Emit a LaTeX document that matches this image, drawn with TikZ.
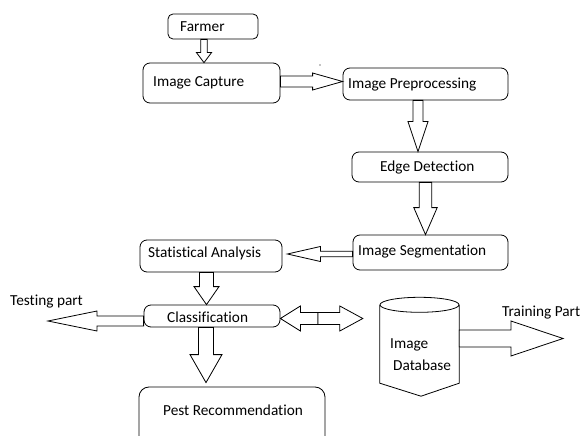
\documentclass[tikz,border=0pt]{standalone}
\usepackage{fontspec}
\setmainfont{Carlito}[Ligatures=NoCommon]
\usetikzlibrary{calc}

% Hollow block arrow from #1 (tail) to #2 (tip):
% #3 half shaft width, #4 half head width, #5 head length
\newcommand\blockarrow[5]{%
  \coordinate (ba-base) at ($(#2)!#5!(#1)$);
  \draw[blk] ($(#1)!#3!90:(#2)$) -- ($(ba-base)!#3!90:(#2)$)
    -- ($(ba-base)!#4!90:(#2)$) -- (#2) -- ($(ba-base)!#4!-90:(#2)$)
    -- ($(ba-base)!#3!-90:(#2)$) -- ($(#1)!#3!-90:(#2)$) -- cycle;}

\begin{document}
\begin{tikzpicture}[x=1pt, y=-1pt,
  box/.style={draw, line width=0.8pt, rounded corners=7pt, inner sep=0pt},
  lbl/.style={inner sep=0pt, anchor=west, font=\fontsize{15.3}{18}\selectfont},
  blk/.style={draw, fill=white, line width=0.8pt, line join=miter}]
\useasboundingbox (0,0) rectangle (582,436);
\clip (0,0) rectangle (582,436);

% process boxes
\node[box, minimum width=90pt, minimum height=25pt, rounded corners=5pt] (farmer) at (213,26.5) {};
\node[box, minimum width=137pt, minimum height=40pt] (capture) at (211.5,83) {};
\node[box, minimum width=165pt, minimum height=32pt] (prep) at (425.5,84) {};
\node[box, minimum width=156pt, minimum height=30pt] (edge) at (430,167) {};
\node[box, minimum width=155pt, minimum height=35pt] (seg) at (430.5,252.5) {};
\node[box, minimum width=142pt, minimum height=32pt] (stat) at (211,256) {};
\node[box, minimum width=136pt, minimum height=22pt] (class) at (212,316) {};
\node[box, minimum width=186pt, minimum height=80pt, rounded corners=10pt] (pest) at (232,427) {};

% box texts
\node[lbl] (t-farmer) at (180,27) {Farmer};
\node[lbl] (t-capture) at (153,83) {Image Capture};
\node[lbl] (t-prep) at (348,85) {Image Preprocessing};
\node[lbl] (t-edge) at (380,168) {Edge Detection};
\node[lbl] (t-seg) at (358,252) {Image Segmentation};
\node[lbl] (t-stat) at (148,253) {Statistical Analysis};
\node[lbl] (t-class) at (167,317) {Classification};
\node[lbl] (t-pest) at (163,410) {Pest Recommendation};
\node[lbl] (t-test) at (10,302) {Testing part};
\node[lbl] (t-train) at (502,313) {Training Part};

% image database cylinder
\node[minimum width=79pt, minimum height=78pt, inner sep=0pt] (db) at (419.5,344) {};
\coordinate (db-bottom) at ($(db.south)+(1.5,13)$);
\draw[line width=0.8pt] (db.north west) -- (db.south west) -- (db-bottom)
  -- (db.south east) -- (db.north east);
\draw[line width=0.8pt] (db.north) ellipse [x radius=39.5, y radius=7.5];
\node[lbl] (t-img) at (390,345) {Image};
\node[lbl] (t-db) at (393,365) {Database};

% arrow guide lines
\coordinate (v1) at (204,0);
\coordinate (h2) at (0,81.5);
\coordinate (v3) at (418,0);
\coordinate (v4) at (425.5,0);
\coordinate (h5) at (0,254);
\coordinate (v6) at (206.5,0);
\coordinate (h7) at (0,321);
\coordinate (v8) at (206,0);
\coordinate (h9) at (0,318.5);
\coordinate (h10) at (0,338.5);

\coordinate (a5tip) at ($(stat.east |- h5)+(5,0)$);
\coordinate (test-end) at (48,321);
\coordinate (a8tip) at ($(pest.north -| v8)+(0,-4)$);
\coordinate (mid9) at (318,318.5);
\coordinate (a9tip) at ($(db.west |- h9)+(-17,0)$);
\coordinate (train-end) at (563,338.5);

% block arrows
\blockarrow{farmer.south -| v1}{capture.north -| v1}{3.3pt}{7.5pt}{10pt}
\blockarrow{capture.east |- h2}{prep.west |- h2}{5.5pt}{8.5pt}{30pt}
\blockarrow{prep.south -| v3}{edge.north -| v3}{5pt}{10pt}{30pt}
\blockarrow{edge.south -| v4}{seg.north -| v4}{6.2pt}{11.7pt}{27pt}
\blockarrow{seg.west |- h5}{a5tip}{2.8pt}{7.5pt}{33pt}
\blockarrow{stat.south -| v6}{class.north -| v6}{7pt}{12.5pt}{18pt}
\blockarrow{class.west |- h7}{test-end}{5pt}{10pt}{49pt}
\blockarrow{class.south -| v8}{a8tip}{7.5pt}{16pt}{28pt}
\blockarrow{mid9}{class.east |- h9}{6pt}{12.5pt}{20pt}
\blockarrow{mid9}{a9tip}{6pt}{12.5pt}{23pt}
\blockarrow{db.east |- h10}{train-end}{8.5pt}{17.5pt}{52pt}

% small speck
\fill (320,65) circle [radius=0.7];
\end{tikzpicture}
\end{document}
